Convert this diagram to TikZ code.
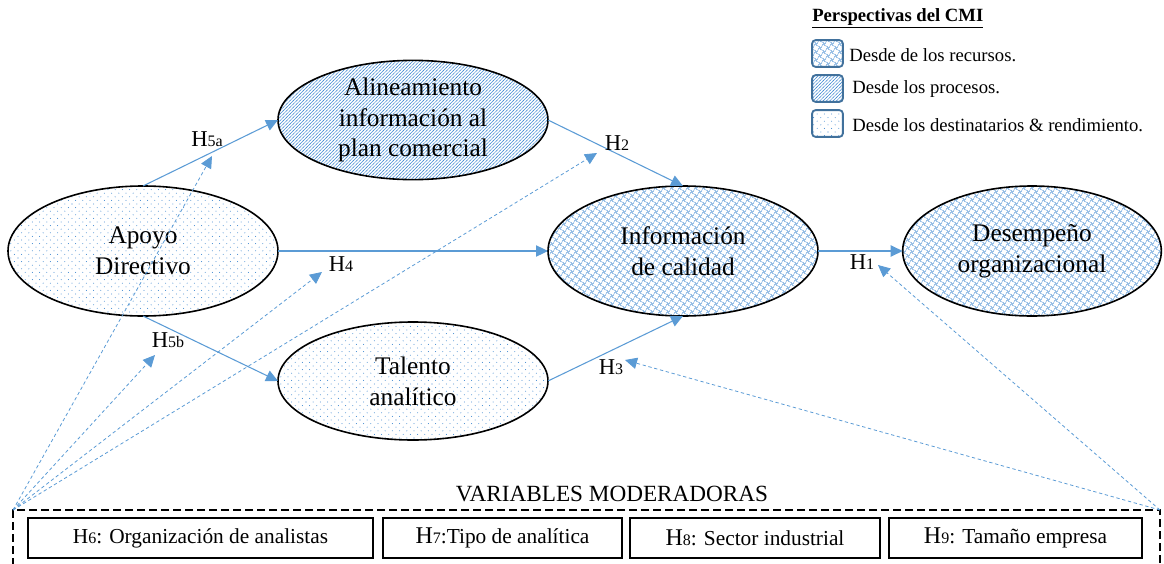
\documentclass[tikz,border=0pt]{standalone}
\usepackage{fontspec}
\setmainfont{Liberation Serif}
\usetikzlibrary{shapes.geometric,arrows.meta,patterns}
\definecolor{lblue}{RGB}{91,155,213}
\definecolor{dblue}{RGB}{65,113,156}
\definecolor{pblue}{RGB}{70,140,210}
\pgfdeclarepatternformonly{mydots}{\pgfpoint{-1pt}{-1pt}}{\pgfpoint{6.5pt}{6.5pt}}{\pgfpoint{5.4pt}{5.4pt}}{%
  \pgfpathcircle{\pgfpoint{0pt}{0pt}}{0.4pt}%
  \pgfpathcircle{\pgfpoint{2.7pt}{2.7pt}}{0.4pt}%
  \pgfusepath{fill}}
\pgfdeclarepatternformonly{mylines}{\pgfpoint{-1pt}{-1pt}}{\pgfpoint{3.5pt}{3.5pt}}{\pgfpoint{2.5pt}{2.5pt}}{%
  \pgfsetlinewidth{0.35pt}%
  \pgfpathmoveto{\pgfpoint{-0.5pt}{-0.5pt}}\pgfpathlineto{\pgfpoint{3pt}{3pt}}%
  \pgfusepath{stroke}}
\pgfdeclarepatternformonly{mywaves}{\pgfpoint{-1pt}{-1pt}}{\pgfpoint{7pt}{7pt}}{\pgfpoint{6pt}{6pt}}{%
  \pgfsetlinewidth{0.3pt}%
  \pgfpathmoveto{\pgfpoint{0pt}{0pt}}%
  \pgfpathcurveto{\pgfpoint{2.4pt}{0pt}}{\pgfpoint{0.6pt}{3pt}}{\pgfpoint{3pt}{3pt}}%
  \pgfpathcurveto{\pgfpoint{5.4pt}{3pt}}{\pgfpoint{3.6pt}{6pt}}{\pgfpoint{6pt}{6pt}}%
  \pgfpathmoveto{\pgfpoint{0pt}{6pt}}%
  \pgfpathcurveto{\pgfpoint{0pt}{3.6pt}}{\pgfpoint{3pt}{5.4pt}}{\pgfpoint{3pt}{3pt}}%
  \pgfpathcurveto{\pgfpoint{3pt}{0.6pt}}{\pgfpoint{6pt}{2.4pt}}{\pgfpoint{6pt}{0pt}}%
  \pgfusepath{stroke}}
\newcommand\hl[1]{{\fontsize{17}{19}\selectfont H\fontsize{12}{14}\selectfont #1}}
\begin{document}
\begin{tikzpicture}[x=0.75pt,y=-0.75pt,
  ell/.style={ellipse,draw=black,line width=1.2pt,inner sep=0pt,outer sep=0pt,
    align=center,font=\fontsize{19}{23}\selectfont,pattern color=pblue},
  solidarrow/.style={draw=lblue,line width=0.8pt,-{Triangle[length=9pt,width=8.5pt]}},
  dasharrow/.style={draw=lblue,line width=0.6pt,dash pattern=on 2.5pt off 2pt,-{Triangle[length=9pt,width=8.5pt]}},
  hlabel/.style={inner sep=0pt},
  modbox/.style={draw=black,line width=1pt,inner sep=0pt,minimum height=30pt,font=\fontsize{16}{18}\selectfont},
  legbox/.style={draw=dblue,line width=1.4pt,rounded corners=2.5pt,minimum width=23pt,minimum height=20pt,inner sep=0pt,pattern color=pblue},
  legtext/.style={anchor=west,inner sep=0pt,font=\fontsize{14}{16}\selectfont}]
\useasboundingbox (0,0) rectangle (1164,564);
% ellipses
\node[ell,pattern=mydots,minimum width=202.5pt,minimum height=97.5pt] (apoyo) at (143,251) {Apoyo\\Directivo};
\node[ell,pattern=mylines,minimum width=202.5pt,minimum height=87pt] (alin) at (413,120) {Alineamiento\\información al\\plan comercial};
\node[ell,pattern=mywaves,minimum width=202.5pt,minimum height=97.5pt] (info) at (683,251) {Información\\de calidad};
\node[ell,pattern=mywaves,minimum width=194pt,minimum height=97.5pt] (desem) at (1032,251) {Desempeño\\organizacional};
\node[ell,pattern=mydots,minimum width=202.5pt,minimum height=88.5pt] (talento) at (413,381) {Talento\\analítico};
% solid arrows
\draw[solidarrow] (apoyo.north) -- (alin.west);
\draw[solidarrow] (alin.east) -- (info.north);
\draw[solidarrow] (apoyo.east) -- (info.west);
\draw[solidarrow] (apoyo.south) -- (talento.west);
\draw[solidarrow] (talento.east) -- (info.south);
\draw[solidarrow] (info.east) -- (desem.west);
% labels
\node[hlabel] (l5a) at (207,139) {\hl{5a}};
\node[hlabel] (l2) at (617,143) {\hl{2}};
\node[hlabel] (l4) at (341,264) {\hl{4}};
\node[hlabel] (l5b) at (168,340) {\hl{5b}};
\node[hlabel] (l3) at (611,367) {\hl{3}};
\node[hlabel] (l1) at (862,262) {\hl{1}};
% moderators
\node[font=\fontsize{17.4}{20}\selectfont,inner sep=0pt] (modtitle) at (612,494) {VARIABLES MODERADORAS};
\node[draw=black,line width=1.1pt,dash pattern=on 6pt off 3pt,anchor=north west,minimum width=860.25pt,minimum height=52.5pt,inner sep=0pt,outer sep=0pt] (mod) at (13,510) {};
\node[modbox,minimum width=258.75pt] (h6) at (200.5,538) {H{\fontsize{12}{14}\selectfont 6}: Organización de analistas};
\node[modbox,minimum width=179.25pt] (h7) at (502.5,538) {{\fontsize{18}{20}\selectfont H}{\fontsize{12}{14}\selectfont 7}:Tipo de analítica};
\node[modbox,minimum width=187.5pt] (h8) at (755,538) {{\fontsize{18}{20}\selectfont H}{\fontsize{12}{14}\selectfont 8}: Sector industrial};
\node[modbox,minimum width=189.75pt] (h9) at (1015.5,538) {{\fontsize{18}{20}\selectfont H}{\fontsize{12}{14}\selectfont 9}: Tamaño empresa};
% dashed arrow targets
\coordinate (t5a) at (212,156);
\coordinate (t2) at (597,153);
\coordinate (t4) at (322,272);
\coordinate (t5b) at (155,355);
\coordinate (t1) at (878,265);
\coordinate (t3) at (625,360);
\draw[dasharrow] (mod.north west) -- (t5a);
\draw[dasharrow] (mod.north west) -- (t2);
\draw[dasharrow] (mod.north west) -- (t4);
\draw[dasharrow] (mod.north west) -- (t5b);
\draw[dasharrow] (mod.north east) -- (t1);
\draw[dasharrow] (mod.north east) -- (t3);
% legend
\node[inner sep=0pt,font=\fontsize{14}{16}\selectfont\bfseries,anchor=west] (legtitle) at (812,18) {\underline{Perspectivas del CMI}};
\node[legbox,pattern=mywaves] (lb1) at (827.5,53.5) {};
\node[legbox,pattern=mylines] (lb2) at (827.5,88.5) {};
\node[legbox,pattern=mydots] (lb3) at (827.5,123.5) {};
\node[legtext] (lt1) at (849,55) {Desde de los recursos.};
\node[legtext] (lt2) at (852,89) {Desde los procesos.};
\node[legtext] (lt3) at (852,125) {Desde los destinatarios \& rendimiento.};
\end{tikzpicture}
\end{document}
